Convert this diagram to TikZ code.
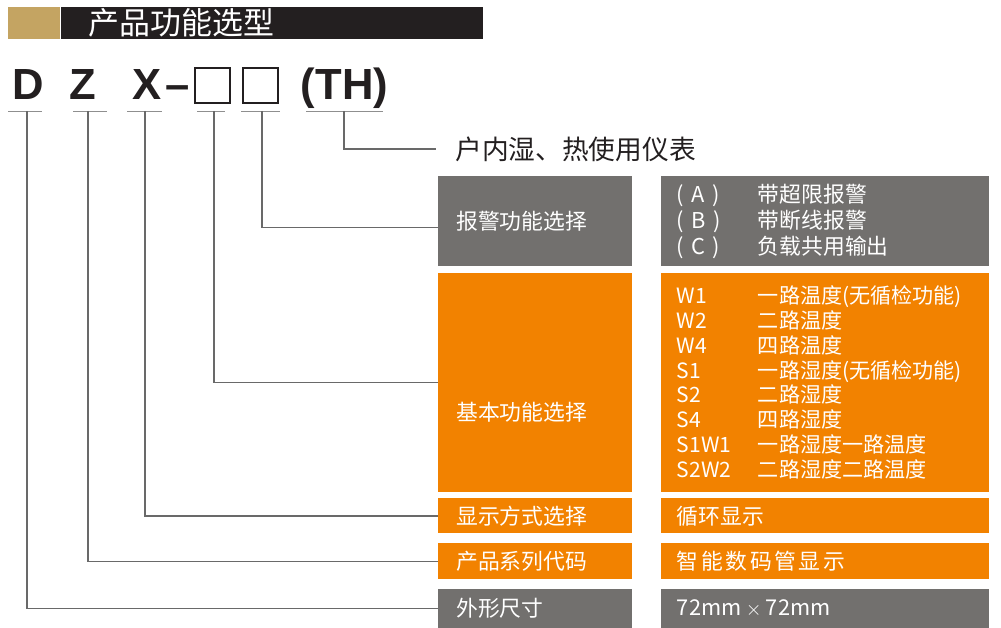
\documentclass[tikz,border=0pt]{standalone}
\usepackage{fontspec}
\setmainfont{Noto Sans CJK SC}
\newfontfamily\codefont{Liberation Sans}
\usetikzlibrary{positioning,calc}
\definecolor{HeadGold}{RGB}{196,164,98}
\definecolor{HeadBlack}{RGB}{35,31,32}
\definecolor{PanelGray}{RGB}{114,112,110}
\definecolor{PanelOrange}{RGB}{242,130,0}
\definecolor{LeadGray}{RGB}{105,105,105}
\definecolor{InkBlack}{RGB}{35,31,32}

\begin{document}
\begin{tikzpicture}[x=0.025cm,y=-0.025cm,
  code/.style={anchor=base,inner sep=0pt,text=InkBlack,
               font=\codefont\fontsize{31}{31}\selectfont\bfseries},
  slot/.style={draw=InkBlack,line width=1.4pt,minimum size=0.875cm,inner sep=0pt},
  lbox/.style={inner xsep=0.45cm,inner ysep=0pt,text width=3.95cm,align=left,
               minimum height=#1,text=white,font=\fontsize{15.5}{18}\selectfont},
  rbox/.style={inner xsep=0.4cm,inner ysep=0pt,text width=7.4cm,align=left,
               minimum height=#1,text=white,font=\fontsize{15.5}{18.5}\selectfont},
  ul/.style={line width=0.7pt,LeadGray!75},
  ln/.style={line width=0.8pt,LeadGray}
]
\useasboundingbox (0,0) rectangle (1001,628);

% header bar
\node[fill=HeadGold,minimum width=1.3cm,minimum height=0.8cm,inner sep=0pt,anchor=north west] (gold) at (8,7) {};
\node[fill=HeadBlack,minimum width=10.55cm,minimum height=0.8cm,inner xsep=0.7cm,inner ysep=0pt,
      text width=9.15cm,align=left,text=white,font=\fontsize{22}{22}\selectfont,right=0pt of gold] (title) {产品功能选型};

% model code
\node[code] (cD) at (28.5,100) {D};
\node[code] (cZ) at (82.5,100) {Z};
\node[code] (cX) at (147.5,100) {X};
\node[code] (cDash) at (177.5,100) {–};
\node[slot] (sA) at (212.5,85.5) {};
\node[slot] (sB) at (260.5,85.5) {};
\node[code] (cTH) at (344.5,100) {(TH)};

\draw[ul] (8,111) -- (42,111);
\draw[ul] (73,111) -- (107,111);
\draw[ul] (127,111) -- (162,111);
\draw[ul] (197,111) -- (225,111);
\draw[ul] (241,111) -- (280,111);
\draw[ul] (306,111) -- (383,111);
\coordinate (uD) at (27,111);
\coordinate (uZ) at (88,111);
\coordinate (uX) at (145,111);
\coordinate (uA) at (214,111);
\coordinate (uB) at (262,111);
\coordinate (uTH) at (344,111);

\node[anchor=west,inner sep=0pt,text=InkBlack,font=\fontsize{19}{19}\selectfont] (note) at (455,149) {户内湿、热使用仪表};
\coordinate (thEnd) at (436,149);

% left column
\node[lbox=2.25cm,fill=PanelGray,anchor=north west] (k1) at (438,176) {报警功能选择};
\node[lbox=5.475cm,fill=PanelOrange,below=0.15cm of k1] (k2) {};
\node[anchor=west,inner sep=0pt,text=white,font=\fontsize{15.5}{18}\selectfont] (k2t) at ($(k2.west)+(18,30)$) {基本功能选择};
\node[lbox=0.875cm,fill=PanelOrange,below=0.15cm of k2] (k3) {显示方式选择};
\node[lbox=0.9cm,fill=PanelOrange,below=0.225cm of k3] (k4) {产品系列代码};
\node[lbox=0.975cm,fill=PanelGray,below=0.225cm of k4] (k5) {外形尺寸};

% right column
\node[rbox=2.25cm,fill=PanelGray,right=0.7cm of k1] (r1) {\makebox[2.025cm][l]{( A )}带超限报警\\
  \makebox[2.025cm][l]{( B )}带断线报警\\
  \makebox[2.025cm][l]{( C )}负载共用输出};
\node[rbox=5.475cm,fill=PanelOrange,right=0.7cm of k2,font=\fontsize{15}{17.6}\selectfont] (r2) {\makebox[2.025cm][l]{W1}一路温度(无循检功能)\\
  \makebox[2.025cm][l]{W2}二路温度\\
  \makebox[2.025cm][l]{W4}四路温度\\
  \makebox[2.025cm][l]{S1}一路湿度(无循检功能)\\
  \makebox[2.025cm][l]{S2}二路湿度\\
  \makebox[2.025cm][l]{S4}四路湿度\\
  \makebox[2.025cm][l]{S1W1}一路湿度一路温度\\
  \makebox[2.025cm][l]{S2W2}二路湿度二路温度};
\node[rbox=0.875cm,fill=PanelOrange,right=0.7cm of k3] (r3) {循环显示};
\node[rbox=0.9cm,fill=PanelOrange,right=0.7cm of k4] (r4) {\addfontfeatures{LetterSpace=12}智能数码管显示};
\node[rbox=0.975cm,fill=PanelGray,right=0.7cm of k5] (r5) {72mm\hspace{0.2em}$\times$\hspace{0.2em}72mm};

% leaders
\draw[ln] (uTH) |- (thEnd);
\draw[ln] (uB) |- ([yshift=-4.3pt]k1.west);
\draw[ln] (uA) |- (k2.west);
\draw[ln] (uX) |- (k3.west);
\draw[ln] (uZ) |- (k4.west);
\draw[ln] (uD) |- (k5.west);
\end{tikzpicture}
\end{document}
